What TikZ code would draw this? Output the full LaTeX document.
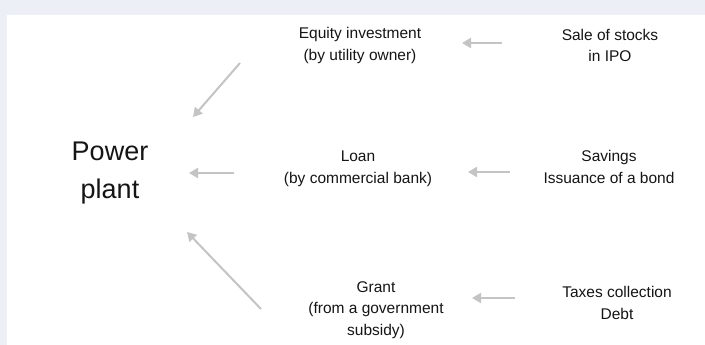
\documentclass[tikz,border=0pt]{standalone}
\usepackage{fontspec}
\setmainfont{Liberation Sans}
\usetikzlibrary{arrows.meta}
\definecolor{bgstrip}{HTML}{ECEFF6}
\definecolor{arrowgray}{HTML}{C4C4C4}
\definecolor{txt}{HTML}{151515}
\tikzset{
  lbl/.style={align=center, inner sep=0pt, text=txt,
    font=\fontsize{15.5}{21.5}\selectfont},
  big/.style={align=center, inner sep=0pt, text=txt,
    font=\fontsize{27}{38}\selectfont},
  flow/.style={draw=arrowgray, line width=2pt,
    -{Triangle[length=9pt,width=10pt]}},
}
\begin{document}
\begin{tikzpicture}[x=1pt,y=-1pt]
\useasboundingbox (0,0) rectangle (705,345);
\fill[bgstrip] (0,0) rectangle (705,345);
\fill[white] (7,15) rectangle (705,345);

\node[big] (power) at (110,173) {Power\\plant};

\node[lbl] (equity) at (360,45.5) {Equity investment\\(by utility owner)};
\node[lbl] (loan) at (358,169) {Loan\\(by commercial bank)};
\node[lbl] (grant) at (376,310) {Grant\\(from a government\\subsidy)};

\node[lbl] (ipo) at (610,45.5) {Sale of stocks\\in IPO};
\node[lbl] (savings) at (609,167) {Savings\\Issuance of a bond};
\node[lbl] (taxes) at (617,303) {Taxes collection\\Debt};

% arrow ends
\coordinate (e1) at (240,63);  \coordinate (p1) at (193,117);
\coordinate (l1) at (234,173); \coordinate (p2) at (189,173);
\coordinate (g1) at (261,309); \coordinate (p3) at (187,232);
\coordinate (s1) at (502,43);  \coordinate (e2) at (462,43);
\coordinate (s2) at (510,172); \coordinate (l2) at (468,172);
\coordinate (s3) at (515,298); \coordinate (g2) at (472,298);

\draw[flow] (e1) -- (p1);
\draw[flow] (l1) -- (p2);
\draw[flow] (g1) -- (p3);
\draw[flow] (s1) -- (e2);
\draw[flow] (s2) -- (l2);
\draw[flow] (s3) -- (g2);
\end{tikzpicture}
\end{document}
